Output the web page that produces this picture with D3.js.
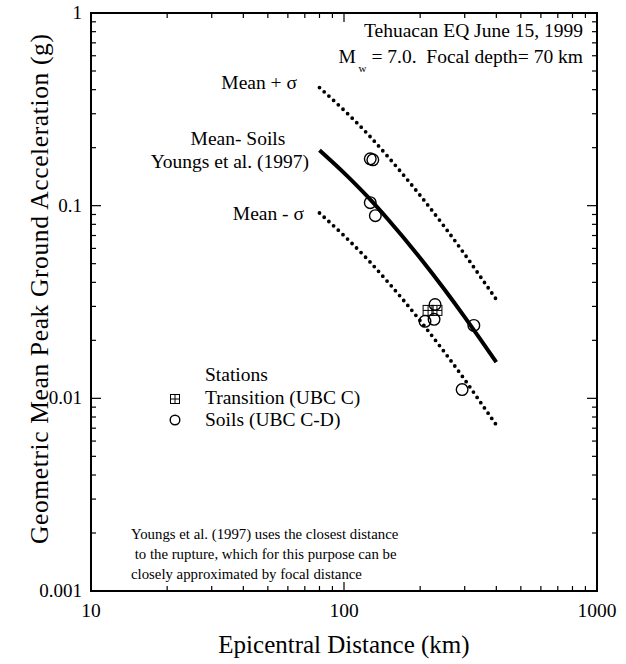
<!DOCTYPE html>
<html>
<head>
<meta charset="utf-8">
<script src="https://cdn.jsdelivr.net/npm/d3@7"></script>
<style>
  body { margin: 0; background: #fff; }
  text { font-family: "Liberation Serif", "Times New Roman", serif; fill: #000; white-space: pre; }
</style>
</head>
<body>
<div id="chart"></div>
<script>
// distances (km) at which the Youngs et al. (1997) curves are read
const curveDist = [80, 100, 125, 150, 200, 250, 300, 350, 400];
const meanPGA   = [0.194, 0.148, 0.110, 0.0842, 0.0535, 0.0366, 0.0264, 0.0198, 0.0154];
const plusPGA   = [0.410, 0.313, 0.233, 0.178, 0.113, 0.0775, 0.0559, 0.0419, 0.0326];
const minusPGA  = [0.0916, 0.0699, 0.0520, 0.0398, 0.0253, 0.0173, 0.0125, 0.00935, 0.00727];

// stations
const soilDist = [127, 130, 127, 133, 229, 227, 209, 326, 293];
const soilPGA  = [0.175, 0.173, 0.1036, 0.0887, 0.0307, 0.0257, 0.0251, 0.0239, 0.0111];
const transDist = [215, 233];
const transPGA  = [0.0286, 0.0286];

const xTicks = [10, 100, 1000];
const yTicks = [0.001, 0.01, 0.1, 1];
const yTickLabels = ["0.001", "0.01", "0.1", "1"];

let W = 626, H = 664;
let margin = {top: 13, right: 29, bottom: 73, left: 91};
let w = W - margin.left - margin.right;
let h = H - margin.top - margin.bottom;

const svg = d3.select("#chart").append("svg")
    .attr("width", W).attr("height", H);
const g = svg.append("g")
    .attr("transform", `translate(${margin.left},${margin.top})`);

let x = d3.scaleLog().domain([10, 1000]).range([0, w]);
let y = d3.scaleLog().domain([0.001, 1]).range([h, 0]);

// minor tick values
let xMinor = [], yMinor = [];
[10, 100].forEach(d => { for (let k = 2; k <= 9; k++) xMinor.push(d * k); });
[0.001, 0.01, 0.1].forEach(d => { for (let k = 2; k <= 9; k++) yMinor.push(d * k); });

// frame
g.append("rect").attr("width", w).attr("height", h)
    .attr("fill", "none").attr("stroke", "#000").attr("stroke-width", 2);

// ticks (all inward)
function tickLines(vals, scale, len, side) {
    vals.forEach(v => {
        let p = scale(v);
        if (side == "bottom") g.append("line").attr("x1", p).attr("x2", p).attr("y1", h).attr("y2", h - len);
        if (side == "top") g.append("line").attr("x1", p).attr("x2", p).attr("y1", 0).attr("y2", len);
        if (side == "left") g.append("line").attr("y1", p).attr("y2", p).attr("x1", 0).attr("x2", len);
        if (side == "right") g.append("line").attr("y1", p).attr("y2", p).attr("x1", w).attr("x2", w - len);
    });
}
["bottom", "top"].forEach(s => { tickLines(xTicks, x, 9, s); tickLines(xMinor, x, 5, s); });
["left", "right"].forEach(s => { tickLines(yTicks, y, 10, s); tickLines(yMinor, y, 5, s); });
g.selectAll("line").attr("stroke", "#000").attr("stroke-width", 1.2);

// tick labels
g.selectAll(".xl").data(xTicks).enter().append("text")
    .attr("x", d => x(d)).attr("y", h + 26)
    .attr("text-anchor", "middle").style("font-size", "19.5px")
    .text(d => d);
g.selectAll(".yl").data(yTicks).enter().append("text")
    .attr("x", -9).attr("y", d => y(d) + 6)
    .attr("text-anchor", "end").style("font-size", "19px")
    .text((d, i) => yTickLabels[i]);

// axis titles
svg.append("text")
    .attr("x", margin.left + x(100)).attr("y", 653)
    .attr("text-anchor", "middle").style("font-size", "25px")
    .text("Epicentral Distance (km)");
svg.append("text")
    .attr("transform", `translate(48,289) rotate(-90)`)
    .attr("text-anchor", "middle").style("font-size", "25.5px")
    .attr("textLength", 510).attr("lengthAdjust", "spacing")
    .text("Geometric Mean Peak Ground Acceleration (g)");

// curves
let line = (vals) => d3.line()
    .x((d, i) => x(curveDist[i]))
    .y(d => y(d))
    .curve(d3.curveMonotoneX)(vals);

g.append("path").attr("d", line(meanPGA))
    .attr("fill", "none").attr("stroke", "#000").attr("stroke-width", 4);
[plusPGA, minusPGA].forEach(vals => {
    g.append("path").attr("d", line(vals))
        .attr("fill", "none").attr("stroke", "#000")
        .attr("stroke-width", 3.8)
        .attr("stroke-linecap", "round")
        .attr("stroke-dasharray", "0 6.4");
});

// transition stations: square with cross
function squareMark(sel, cx, cy, s) {
    sel.append("rect").attr("x", cx - s / 2).attr("y", cy - s / 2)
        .attr("width", s).attr("height", s)
        .attr("fill", "none").attr("stroke", "#000").attr("stroke-width", 1);
    sel.append("line").attr("x1", cx - s / 2).attr("x2", cx + s / 2).attr("y1", cy).attr("y2", cy)
        .attr("stroke", "#000").attr("stroke-width", 1);
    sel.append("line").attr("x1", cx).attr("x2", cx).attr("y1", cy - s / 2).attr("y2", cy + s / 2)
        .attr("stroke", "#000").attr("stroke-width", 1);
}
transDist.forEach((d, i) => squareMark(g, x(d), y(transPGA[i]), 10));

// soil stations: open circles
g.selectAll(".soil").data(soilDist).enter().append("circle")
    .attr("cx", d => x(d)).attr("cy", (d, i) => y(soilPGA[i]))
    .attr("r", 5.8).attr("fill", "none")
    .attr("stroke", "#000").attr("stroke-width", 1.4);

// annotations
let ann = svg.append("g").style("font-size", "19.5px");
ann.append("text").attr("x", 583).attr("y", 37).attr("text-anchor", "end")
    .text("Tehuacan EQ June 15, 1999");
let mw = ann.append("text").attr("x", 583).attr("y", 63).attr("text-anchor", "end");
mw.append("tspan").text("M");
mw.append("tspan").attr("dy", 9).style("font-size", "11px").text(" w");
mw.append("tspan").attr("dy", -9).text(" = 7.0.  Focal depth= 70 km");

ann.append("text").attr("x", 297).attr("y", 89).attr("text-anchor", "end")
    .text("Mean + σ");
ann.append("text").attr("x", 238).attr("y", 145).attr("text-anchor", "middle")
    .text("Mean- Soils");
ann.append("text").attr("x", 309).attr("y", 168).attr("text-anchor", "end")
    .text("Youngs et al. (1997)");
ann.append("text").attr("x", 304).attr("y", 220).attr("text-anchor", "end")
    .text("Mean - σ");

// legend
let legendX = 205;
ann.append("text").attr("x", legendX).attr("y", 381).text("Stations");
ann.append("text").attr("x", legendX).attr("y", 404).text("Transition (UBC C)");
ann.append("text").attr("x", legendX).attr("y", 426).text("Soils (UBC C-D)");
squareMark(svg, 175, 399, 9);
svg.append("circle").attr("cx", 175).attr("cy", 420).attr("r", 4.8)
    .attr("fill", "none").attr("stroke", "#000").attr("stroke-width", 1.4);

// note
let note = svg.append("g").style("font-size", "14.8px");
note.append("text").attr("x", 131).attr("y", 539)
    .text("Youngs et al. (1997) uses the closest distance");
note.append("text").attr("x", 131).attr("y", 559)
    .text(" to the rupture, which for this purpose can be");
note.append("text").attr("x", 131).attr("y", 579)
    .text("closely approximated by focal distance");
</script>
</body>
</html>
